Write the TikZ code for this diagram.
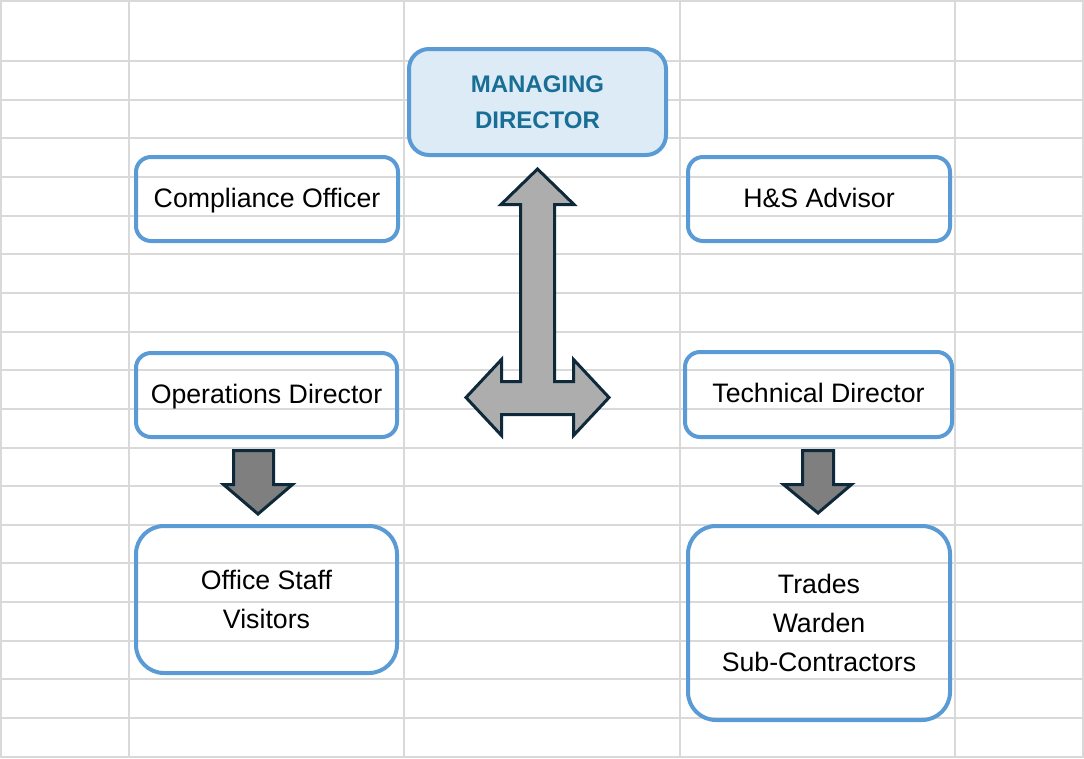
\documentclass[tikz,border=0pt]{standalone}
\usepackage{fontspec}
\setmainfont{Liberation Sans}
\definecolor{cellgrid}{RGB}{217,217,217}
\definecolor{boxblue}{RGB}{91,155,213}
\definecolor{mdfill}{RGB}{221,235,247}
\definecolor{mdtext}{RGB}{24,110,148}
\definecolor{arrowedge}{RGB}{14,41,58}
\definecolor{liftgray}{RGB}{173,173,173}
\definecolor{dropgray}{RGB}{127,127,127}

\begin{document}
\begin{tikzpicture}[x=1pt,y=-1pt,
    gridline/.style={cellgrid,line width=2pt},
    role/.style={rectangle,draw=boxblue,line width=4pt,rounded corners=15pt,
      align=center,inner sep=0pt,font=\fontsize{26.7}{39}\selectfont},
    single/.style={role,text height=21pt,text depth=5pt},
    boss/.style={role,fill=mdfill,text=mdtext,rounded corners=20pt,
      font=\fontsize{24}{36}\selectfont\bfseries},
    team/.style={role,rounded corners=28pt},
    bigarrow/.style={draw=arrowedge,line width=3pt,line join=miter,fill=liftgray},
    droparrow/.style={bigarrow,fill=dropgray}]
    \useasboundingbox (0,0) rectangle (1084,758);
    % spreadsheet cells behind the chart
    \foreach \k in {0,...,18} {
      \pgfmathsetmacro{\gy}{61+38.65*\k}
      \draw[gridline] (0,\gy) -- (1084,\gy);
    }
    \draw[gridline] (0,1) -- (1084,1);
    \foreach \gx in {1,129,404.3,679.7,955,1083}
      \draw[gridline] (\gx,0) -- (\gx,758);

    \node[boss,minimum width=257pt,minimum height=106pt] (md) at (537.5,102) {MANAGING\\DIRECTOR};
    \node[single,minimum width=262pt,minimum height=84pt] (comp) at (267,199) {Compliance Officer};
    \node[single,minimum width=262pt,minimum height=84pt] (hs) at (819,199) {H\&S Advisor};
    \node[single,minimum width=261pt,minimum height=84pt] (ops) at (266.5,395) {Operations Director};
    \node[single,minimum width=267pt,minimum height=85pt] (tech) at (818.5,394.5) {Technical Director};
    \node[team,minimum width=261pt,minimum height=147pt] (staff) at (266.5,599.5) {Office Staff\\Visitors};
    \node[team,minimum width=262pt,minimum height=194pt] (trades) at (819,623) {Trades\\Warden\\Sub-Contractors};

    % up/left/right block arrow under the MD
    \draw[bigarrow,shift={(md.south)}] (0,12) -- (36.5,47.5) -- (17,47.5) -- (17,224.5)
      -- (36,224.5) -- (36,202.5) -- (71.5,240.5) -- (36,278.5) -- (36,257.5)
      -- (-36,257.5) -- (-36,278.5) -- (-71.5,240.5) -- (-36,202.5) -- (-36,224.5)
      -- (-17,224.5) -- (-17,47.5) -- (-36.5,47.5) -- cycle;
    % down arrows to the teams
    \draw[droparrow,shift={(ops.south)}] (-33,11.5) -- (7,11.5) -- (7,45.5) -- (26,45.5)
      -- (-8.5,75) -- (-43,45.5) -- (-33,45.5) -- cycle;
    \draw[droparrow,shift={(tech.south)}] (-16,11.5) -- (15,11.5) -- (15,45.5) -- (33,45.5)
      -- (-0.5,74) -- (-35,45.5) -- (-16,45.5) -- cycle;
  \end{tikzpicture}
\end{document}
